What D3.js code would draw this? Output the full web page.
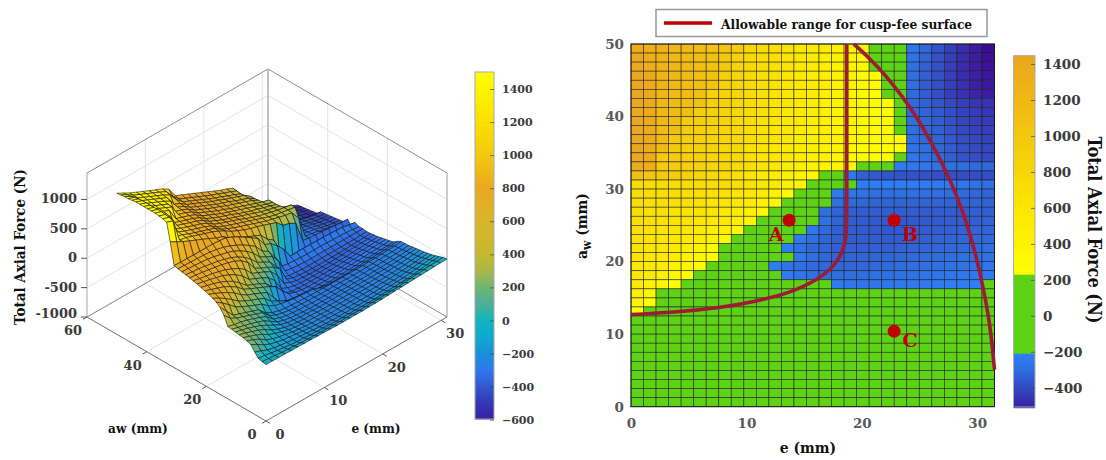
<!DOCTYPE html>
<html>
<head>
<meta charset="utf-8">
<script src="https://cdnjs.cloudflare.com/ajax/libs/d3/7.8.5/d3.min.js"></script>
<style>
    html, body { margin: 0; padding: 0; background: #fff; }
    svg { display: block; }
    text { font-family: "DejaVu Serif", "Liberation Serif", serif; font-weight: bold; }
    .title { font-family: "DejaVu Serif Condensed", "DejaVu Serif", serif; fill: #111; }
    .tick3d { fill: #3a3a3a; font-size: 13px; }
    .cbar .domain { stroke: #aaa; }
    .cbar .tick line { stroke: #444; stroke-opacity: .7; }
    .cbar text { font-family: "DejaVu Serif", serif; font-weight: bold; }
    .heat-axis .domain { display: none; }
    .heat-axis text { font-size: 13.5px; fill: #595959; }
</style>
</head>
<body>
<svg id="chart" width="1106" height="460"></svg>
<script>
// e (mm) for each column, aw (mm) for each row (top row of the map first)
const eGrid = [0,1.1,2.2,3.3,4.4,5.5,6.6,7.8,8.9,10,11.1,12.2,13.3,14.4,15.5,16.6,17.7,18.8,19.9,21,22.1,23.3,24.4,25.5,26.6,27.7,28.8,29.9,31];
const awGrid = [50,48.7,47.4,46.2,44.9,43.6,42.3,41,39.7,38.5,37.2,35.9,34.6,33.3,32.1,30.8,29.5,28.2,26.9,25.6,24.4,23.1,21.8,20.5,19.2,17.9,16.7,15.4,14.1,12.8,11.5,10.3,9,7.7,6.4,5.1,3.8,2.6,1.3,0];

// Total axial force (N), estimated from the two panels
const axialForce = [
[1400,1340,1280,1230,1180,1130,1080,1030,960,790,740,690,640,590,540,490,440,400,350,190,60,-100,-270,-320,-370,-420,-470,-520,-570],
[1410,1350,1280,1230,1180,1130,1080,1020,880,770,720,670,620,570,520,480,430,390,340,180,50,-110,-280,-330,-380,-430,-480,-520,-560],
[1420,1360,1270,1220,1170,1120,1070,1000,860,760,710,660,610,560,510,470,420,380,330,170,40,-110,-290,-340,-380,-430,-480,-520,-550],
[1420,1380,1260,1210,1160,1110,1060,880,830,750,700,650,600,550,510,460,420,380,340,260,30,-120,-300,-340,-380,-430,-480,-510,-540],
[1430,1390,1250,1200,1150,1100,1040,870,820,740,690,640,590,540,500,460,410,370,330,260,30,-120,-300,-350,-390,-430,-470,-510,-530],
[1440,1400,1240,1190,1140,1090,900,860,810,730,680,630,580,540,490,450,410,370,330,270,20,-130,-310,-350,-390,-430,-470,-500,-520],
[1440,1400,1230,1180,1130,1080,890,850,800,720,670,620,570,530,480,440,400,360,320,280,250,-100,-310,-340,-370,-400,-430,-450,-460],
[1440,1400,1220,1170,1120,920,880,840,790,710,660,610,560,520,480,440,400,360,320,280,250,-90,-310,-330,-360,-390,-420,-440,-450],
[1440,1400,1210,1160,950,910,870,830,780,700,650,600,560,520,470,430,390,360,320,290,250,-70,-300,-320,-350,-380,-410,-430,-440],
[1440,1400,1200,1150,940,900,860,820,770,690,640,590,550,510,470,430,390,350,320,290,260,-50,-300,-320,-340,-370,-400,-420,-430],
[1440,1400,1190,980,930,890,850,810,760,680,630,590,550,510,460,420,380,350,320,290,270,250,-290,-310,-330,-360,-390,-410,-420],
[1430,1390,1180,970,920,880,840,800,750,670,620,580,540,500,460,420,380,340,310,290,270,250,-280,-300,-320,-350,-380,-400,-410],
[1420,1380,980,960,910,870,830,790,750,670,620,570,530,490,450,410,370,340,310,280,260,100,-270,-290,-310,-340,-370,-390,-400],
[1400,1360,970,950,910,870,830,790,740,680,610,560,510,470,440,400,360,320,210,180,120,-240,-260,-270,-280,-290,-300,-310,-320],
[1100,1040,980,930,880,830,780,720,680,600,540,480,430,380,330,200,120,-260,-340,-360,-370,-375,-380,-380,-385,-385,-390,-390,-390],
[735,730,730,725,725,725,725,715,700,650,590,520,450,370,210,160,60,-60,-240,-235,-235,-235,-240,-240,-245,-250,-260,-280,-300],
[720,715,710,705,700,690,670,640,600,550,490,420,340,200,130,-30,-250,-270,-280,-290,-290,-290,-290,-295,-300,-300,-310,-320,-330],
[705,700,690,680,670,650,620,590,550,490,420,330,200,140,80,-60,-290,-310,-320,-330,-330,-330,-330,-330,-330,-330,-330,-330,-330],
[695,680,670,650,630,610,580,540,490,420,330,210,150,90,-50,-300,-330,-340,-350,-350,-350,-350,-350,-350,-350,-350,-350,-345,-340],
[680,665,650,630,610,590,560,520,460,370,210,150,100,40,-50,-290,-330,-345,-355,-360,-360,-360,-360,-360,-355,-350,-345,-340,-335],
[665,640,620,600,570,540,490,430,350,220,170,120,60,-60,-260,-310,-340,-350,-355,-360,-360,-360,-355,-350,-345,-340,-335,-330,-325],
[650,625,600,570,540,490,430,340,220,170,120,60,-50,-250,-300,-330,-340,-350,-350,-350,-350,-350,-345,-340,-335,-330,-325,-320,-315],
[630,600,570,530,480,420,330,220,170,120,60,-60,-240,-290,-320,-330,-340,-340,-340,-340,-340,-335,-330,-325,-320,-315,-310,-305,-300],
[610,570,530,490,430,360,260,200,150,100,50,-20,-150,-260,-300,-320,-330,-330,-330,-330,-325,-320,-315,-310,-305,-300,-295,-290,-285],
[590,540,490,430,360,270,200,150,100,50,-100,-240,-280,-300,-310,-320,-320,-320,-320,-315,-310,-305,-300,-295,-290,-285,-280,-275,-270],
[560,500,430,350,260,200,150,100,50,-60,-120,-180,-240,-270,-290,-300,-300,-300,-300,-295,-290,-285,-280,-275,-270,-265,-260,-255,-250],
[530,450,360,260,200,150,100,50,-40,-100,-130,-150,-170,-180,-190,-200,-240,-260,-265,-265,-260,-255,-250,-245,-240,-235,-230,-225,-205],
[480,350,220,180,140,100,60,-60,-120,-150,-170,-180,-190,-195,-200,-200,-205,-205,-205,-205,-205,-205,-205,-200,-200,-195,-190,-185,-170],
[380,270,210,170,130,90,50,-70,-120,-150,-170,-180,-185,-190,-195,-200,-200,-200,-200,-200,-200,-200,-195,-195,-190,-185,-180,-175,-165],
[230,200,180,150,110,70,20,-90,-130,-155,-170,-180,-185,-190,-195,-195,-195,-195,-195,-195,-195,-195,-190,-190,-185,-180,-175,-170,-160],
[220,190,160,130,90,50,-20,-100,-135,-155,-170,-180,-185,-190,-190,-190,-190,-190,-190,-190,-190,-190,-185,-185,-180,-175,-170,-160,-150],
[210,180,150,110,70,10,-50,-110,-140,-155,-170,-175,-180,-185,-185,-185,-185,-185,-185,-185,-185,-185,-180,-180,-175,-170,-160,-150,-140],
[200,170,130,90,40,-30,-80,-120,-140,-155,-165,-170,-175,-180,-180,-180,-180,-180,-180,-180,-180,-180,-175,-170,-165,-160,-150,-140,-130],
[190,150,110,60,-10,-50,-90,-120,-140,-150,-160,-165,-170,-175,-175,-175,-175,-175,-175,-175,-175,-175,-170,-165,-160,-150,-140,-130,-120],
[175,130,80,0,-40,-70,-95,-120,-135,-145,-155,-160,-165,-170,-170,-170,-170,-170,-170,-170,-170,-165,-160,-155,-150,-140,-130,-115,-105],
[150,90,20,-30,-60,-85,-100,-115,-130,-140,-150,-155,-160,-165,-165,-165,-165,-165,-165,-165,-160,-155,-150,-145,-135,-125,-110,-95,-90],
[60,20,-30,-55,-75,-90,-105,-115,-125,-135,-145,-150,-155,-155,-155,-155,-155,-155,-155,-150,-145,-140,-135,-130,-115,-105,-90,-75,-70],
[-10,-25,-45,-65,-80,-95,-105,-110,-120,-125,-130,-135,-140,-140,-140,-140,-140,-140,-140,-135,-130,-125,-120,-115,-100,-85,-70,-55,-50],
[-30,-40,-50,-60,-70,-80,-85,-90,-95,-100,-100,-105,-105,-105,-105,-105,-105,-100,-100,-95,-90,-85,-75,-65,-55,-45,-35,-30,-25],
[-40,-40,-45,-45,-50,-50,-55,-55,-60,-60,-65,-70,-70,-70,-70,-70,-65,-65,-60,-55,-50,-45,-40,-35,-30,-25,-20,-15,-14]
];

// cusp-free boundary, read as [e, aw]
const allowableLeft = [[0,12.7],[3.7,13],[7.5,13.6],[10.8,14.5],[13.8,15.7],[16.2,17.5],[17.7,19.5],[18.4,21.6],[18.7,23.4],[18.7,30],[18.7,40],[18.7,50]];
const allowableRight = [[19.3,50],[20.7,48],[22.1,45.6],[23.6,42.6],[24.9,39.6],[26.1,36.2],[27.3,32.5],[28.3,28.8],[29.2,24.8],[29.9,20.8],[30.5,16.6],[31,12.4],[31.3,8.5],[31.5,5.1]];
const markers = [{name: "A", e: 13.7, aw: 25.7}, {name: "B", e: 22.8, aw: 25.7}, {name: "C", e: 22.8, aw: 10.4}];

const eTicks3d = [0,10,20,30];
const awTicks3d = [0,20,40,60];
const zTicks3d = [-1000,-500,0,500,1000];
const cbarTicksLeft = [-600,-400,-200,0,200,400,600,800,1000,1200,1400];
const cbarTicksRight = [-400,-200,0,200,400,600,800,1000,1200,1400];

// colour stops
const parulaValues = [-600,-500,-400,-300,-200,-100,0,100,200,300,400,600,800,1000,1200,1500];
const parulaColors = ["#3a1fa0","#3238b4","#3358cc","#2f78f0","#1a90d8","#0fa8cf","#12b3bf","#4cb098","#6fb56f","#a8b84a","#c6b82e","#d9b52a","#eba81f","#f3c80f","#fbe000","#ffff00"];
// tones seen on the surface itself, which run warmer than the bar for the same height
const surfaceValues = [-600,-500,-400,-300,-200,-130,-60,-20,50,150,250,400,550,850,950,1050,1300];
const surfaceColors = ["#3a1fa0","#3238b4","#3358cc","#2f78f0","#2a7ce8","#2090dc","#14a8d0","#12b3bf","#4cb098","#7db565","#b5b840","#d9b52a","#e8a828","#eba81f","#f6d410","#fde800","#ffff00"];
const warmValues = [230,600,1000,1450];
const warmColors = ["#ffff00","#fbe600","#f3c80f","#eba61f"];
const coolValues = [-507,-300,-212];
const coolColors = ["#3a22a5","#2f6fe0","#2f80ff"];
const greenColor = "#5ed214";

const parula = d3.scaleLinear().domain(parulaValues).range(parulaColors);
const surfaceTone = d3.scaleLinear().domain(surfaceValues).range(surfaceColors);
const warm = d3.scaleLinear().domain(warmValues).range(warmColors);
const cool = d3.scaleLinear().domain(coolValues).range(coolColors);
function heatColor(v) {
    if(v >= 230) return warm(v);
    if(v >= -212) return greenColor;
    return cool(v);
}

const svg = d3.select("#chart");

/* ---------- left panel: surface ---------- */
const origin = {x: 266, y: 421};
const eToX = d3.scaleLinear().domain([0, 31]).range([0, 181]);
const eToY = d3.scaleLinear().domain([0, 31]).range([0, 104]);
const awToX = d3.scaleLinear().domain([0, 60]).range([0, 179]);
const awToY = d3.scaleLinear().domain([0, 60]).range([0, 104]);
const zToY = d3.scaleLinear().domain([-1000, 1450]).range([0, 144]);

function project(e, aw, z) {
    return [origin.x + eToX(e) - awToX(aw), origin.y - eToY(e) - awToY(aw) - zToY(z)];
}

const box = svg.append("g").attr("class", "box3d");
function seg(g, a, b, stroke, width) {
    g.append("line")
      .attr("x1", a[0]).attr("y1", a[1]).attr("x2", b[0]).attr("y2", b[1])
      .attr("stroke", stroke).attr("stroke-width", width);
}

const zMin = -1000, zMax = 1450, eMax = 31, awMax = 60;
const gridColor = "#e4e4e4";

// back walls and floor grid
zTicks3d.forEach(z => {
    seg(box, project(0, awMax, z), project(eMax, awMax, z), gridColor, 1);
    seg(box, project(eMax, 0, z), project(eMax, awMax, z), gridColor, 1);
});
eTicks3d.forEach(e => {
    seg(box, project(e, 0, zMin), project(e, awMax, zMin), gridColor, 1);
    seg(box, project(e, awMax, zMin), project(e, awMax, zMax), gridColor, 1);
});
awTicks3d.forEach(aw => {
    seg(box, project(0, aw, zMin), project(eMax, aw, zMin), gridColor, 1);
    seg(box, project(eMax, aw, zMin), project(eMax, aw, zMax), gridColor, 1);
});

const edge = "#8f8f8f";
seg(box, project(0, awMax, zMax), project(eMax, awMax, zMax), edge, 1);
seg(box, project(eMax, 0, zMax), project(eMax, awMax, zMax), edge, 1);
seg(box, project(eMax, awMax, zMin), project(eMax, awMax, zMax), "#b5b5b5", 1.6);
seg(box, project(0, awMax, zMin), project(0, awMax, zMax), "#b5b5b5", 1);
seg(box, project(eMax, 0, zMin), project(eMax, 0, zMax), "#b5b5b5", 1.2);
seg(box, project(0, awMax, zMin), project(eMax, awMax, zMin), edge, 1);
seg(box, project(eMax, 0, zMin), project(eMax, awMax, zMin), edge, 1);
seg(box, project(0, 0, zMin), project(0, awMax, zMin), "#777", 1);
seg(box, project(0, 0, zMin), project(eMax, 0, zMin), "#777", 1);

// axis ticks and labels
eTicks3d.forEach(e => {
    const p = project(e, 0, zMin);
    seg(box, p, [p[0] + 4, p[1] + 2.4], "#555", 1);
    box.append("text").attr("class", "tick3d").attr("x", p[0] + 14).attr("y", p[1] + 18)
      .attr("text-anchor", "middle").text(e);
});
awTicks3d.forEach(aw => {
    const p = project(0, aw, zMin);
    seg(box, p, [p[0] - 4, p[1] + 2.4], "#555", 1);
    box.append("text").attr("class", "tick3d").attr("x", p[0] - 14).attr("y", p[1] + 18)
      .attr("text-anchor", "middle").text(aw);
});
zTicks3d.forEach(z => {
    const p = project(0, awMax, z);
    seg(box, p, [p[0] - 6, p[1]], "#555", 1);
    box.append("text").attr("class", "tick3d").attr("x", p[0] - 10).attr("y", p[1] + (z === -1000 ? 1 : 4))
      .attr("text-anchor", "end").text(z);
});

// quads, far ones first
const quads = [];
for(let r = 0; r < awGrid.length - 1; r++) {
    for(let c = 0; c < eGrid.length - 1; c++) {
        const corners = [[r, c], [r, c + 1], [r + 1, c + 1], [r + 1, c]];
        quads.push({
            pts: corners.map(([i, j]) => project(eGrid[j], awGrid[i], axialForce[i][j])),
            mean: d3.mean(corners, ([i, j]) => axialForce[i][j]),
            depth: (eGrid[c] + eGrid[c + 1]) / 2 / eMax + (awGrid[r] + awGrid[r + 1]) / 2 / awMax
        });
    }
}
quads.sort((a, b) => d3.descending(a.depth, b.depth));

svg.append("g").attr("class", "surface")
  .selectAll("polygon")
  .data(quads)
  .enter().append("polygon")
    .attr("points", d => d.pts.map(p => p.join(",")).join(" "))
    .attr("fill", d => surfaceTone(d.mean))
    .attr("stroke", "#141414")
    .attr("stroke-width", 0.6)
    .attr("stroke-linejoin", "round");

svg.append("text").attr("class", "title")
  .attr("transform", "translate(25,247) rotate(-90)")
  .attr("text-anchor", "middle").attr("font-size", 15).attr("fill", "#333")
  .text("Total Axial Force (N)");
svg.append("text").attr("class", "title").attr("x", 138).attr("y", 433)
  .attr("text-anchor", "middle").attr("font-size", 13.5).text("aw (mm)");
svg.append("text").attr("class", "title").attr("x", 376).attr("y", 433)
  .attr("text-anchor", "middle").attr("font-size", 13.5).text("e (mm)");

// colour bars share this helper
function colorBar(x0, x1, yScale, color, ticks, fontSize) {
    const g = svg.append("g").attr("class", "cbar");
    const [bottom, top] = yScale.range();
    g.selectAll("rect")
      .data(d3.range(top, bottom))
      .enter().append("rect")
        .attr("x", x0).attr("y", d => d)
        .attr("width", x1 - x0).attr("height", 1.5)
        .attr("fill", d => color(yScale.invert(d + 0.5)));
    g.append("rect")
      .attr("x", x0).attr("y", top).attr("width", x1 - x0).attr("height", bottom - top)
      .attr("fill", "none").attr("stroke", "#aaa").attr("stroke-width", 1);
    g.append("g")
      .attr("transform", `translate(${x1},0)`)
      .call(d3.axisRight(yScale).tickValues(ticks).tickSizeOuter(0).tickSizeInner(-4).tickPadding(8).tickFormat(d3.format("d")))
      .call(a => a.select(".domain").remove())
      .selectAll("text").attr("font-size", fontSize).attr("fill", "#3a3a3a").style("font-family", null);
}

colorBar(475, 494, d3.scaleLinear().domain([-596, 1503]).range([419, 72]), parula, cbarTicksLeft, 11);

/* ---------- right panel: heat map ---------- */
const plot = {left: 631, right: 994.5, top: 44, bottom: 406.7};
const xScale = d3.scaleLinear().domain([0, 31.5]).range([plot.left, plot.right]);
const yScale = d3.scaleLinear().domain([0, 50]).range([plot.bottom, plot.top]);
const colBand = d3.scaleBand().domain(eGrid).range([plot.left, plot.right]);
const rowBand = d3.scaleBand().domain(awGrid).range([plot.top, plot.bottom]);

const cells = [];
awGrid.forEach((aw, i) => eGrid.forEach((e, j) => cells.push({e: e, aw: aw, force: axialForce[i][j]})));

svg.append("g").attr("class", "heat")
  .selectAll("rect")
  .data(cells)
  .enter().append("rect")
    .attr("x", d => colBand(d.e))
    .attr("y", d => rowBand(d.aw))
    .attr("width", colBand.bandwidth())
    .attr("height", rowBand.bandwidth())
    .attr("fill", d => heatColor(d.force))
    .attr("stroke", "#1a1a1a")
    .attr("stroke-opacity", 0.75)
    .attr("stroke-width", 0.7);

svg.append("rect")
  .attr("x", plot.left).attr("y", plot.top)
  .attr("width", plot.right - plot.left).attr("height", plot.bottom - plot.top)
  .attr("fill", "none").attr("stroke", "#1a1a1a").attr("stroke-width", 1);

svg.append("g").attr("class", "heat-axis")
  .attr("transform", `translate(0,${plot.bottom})`)
  .call(d3.axisBottom(xScale).tickValues([0,10,20,30]).tickSize(0).tickPadding(12));
svg.append("g").attr("class", "heat-axis")
  .attr("transform", `translate(${plot.left},0)`)
  .call(d3.axisLeft(yScale).tickValues([0,10,20,30,40,50]).tickSize(0).tickPadding(7));

const boundary = d3.line()
  .x(d => xScale(d[0]))
  .y(d => yScale(d[1]))
  .curve(d3.curveBasis);

svg.append("path").datum(allowableLeft).attr("class", "allowable")
  .attr("d", boundary).attr("fill", "none").attr("stroke", "#9e1a35").attr("stroke-width", 3.6);
svg.append("path").datum(allowableRight).attr("class", "allowable")
  .attr("d", boundary).attr("fill", "none").attr("stroke", "#9e1a35").attr("stroke-width", 3.6);

svg.selectAll(".marker")
  .data(markers)
  .enter().append("circle")
    .attr("class", "marker")
    .attr("cx", d => xScale(d.e))
    .attr("cy", d => yScale(d.aw))
    .attr("r", 6.5)
    .attr("fill", "#c00000");

svg.selectAll(".marker-label")
  .data(markers)
  .enter().append("text")
    .attr("class", "marker-label")
    .attr("x", d => xScale(d.e) + (d.name === "A" ? -13 : 16))
    .attr("y", d => yScale(d.aw) + (d.name === "C" ? 16 : 21))
    .attr("text-anchor", "middle")
    .attr("font-size", 19)
    .attr("fill", "#c00000")
    .text(d => d.name);

// legend
svg.append("rect").attr("x", 656).attr("y", 9.5).attr("width", 331).attr("height", 27)
  .attr("fill", "#fff").attr("stroke", "#999").attr("stroke-width", 1.5);
svg.append("line").attr("x1", 664).attr("x2", 712).attr("y1", 23).attr("y2", 23)
  .attr("stroke", "#c00000").attr("stroke-width", 3.6);
svg.append("text").attr("class", "title").attr("x", 721).attr("y", 28.5)
  .attr("font-size", 13.6).text("Allowable range for cusp-fee surface");

// axis titles
svg.append("text").attr("class", "title").attr("x", 808).attr("y", 453)
  .attr("text-anchor", "middle").attr("font-size", 15.5).attr("fill", "#444").text("e (mm)");
const awLabel = svg.append("text").attr("class", "title")
  .attr("transform", "translate(587,226) rotate(-90)")
  .attr("text-anchor", "middle").attr("font-size", 15.5).attr("fill", "#444");
awLabel.append("tspan").text("a");
awLabel.append("tspan").attr("dy", 4).attr("font-size", 12).text("w");
awLabel.append("tspan").attr("dy", -4).text(" (mm)");

colorBar(1013.5, 1035, d3.scaleLinear().domain([-507, 1446]).range([407, 55.7]), heatColor, cbarTicksRight, 13.5);

svg.append("text").attr("class", "title")
  .attr("transform", "translate(1088,230) rotate(90)")
  .attr("text-anchor", "middle").attr("font-size", 18).text("Total Axial Force (N)");
</script>
</body>
</html>
